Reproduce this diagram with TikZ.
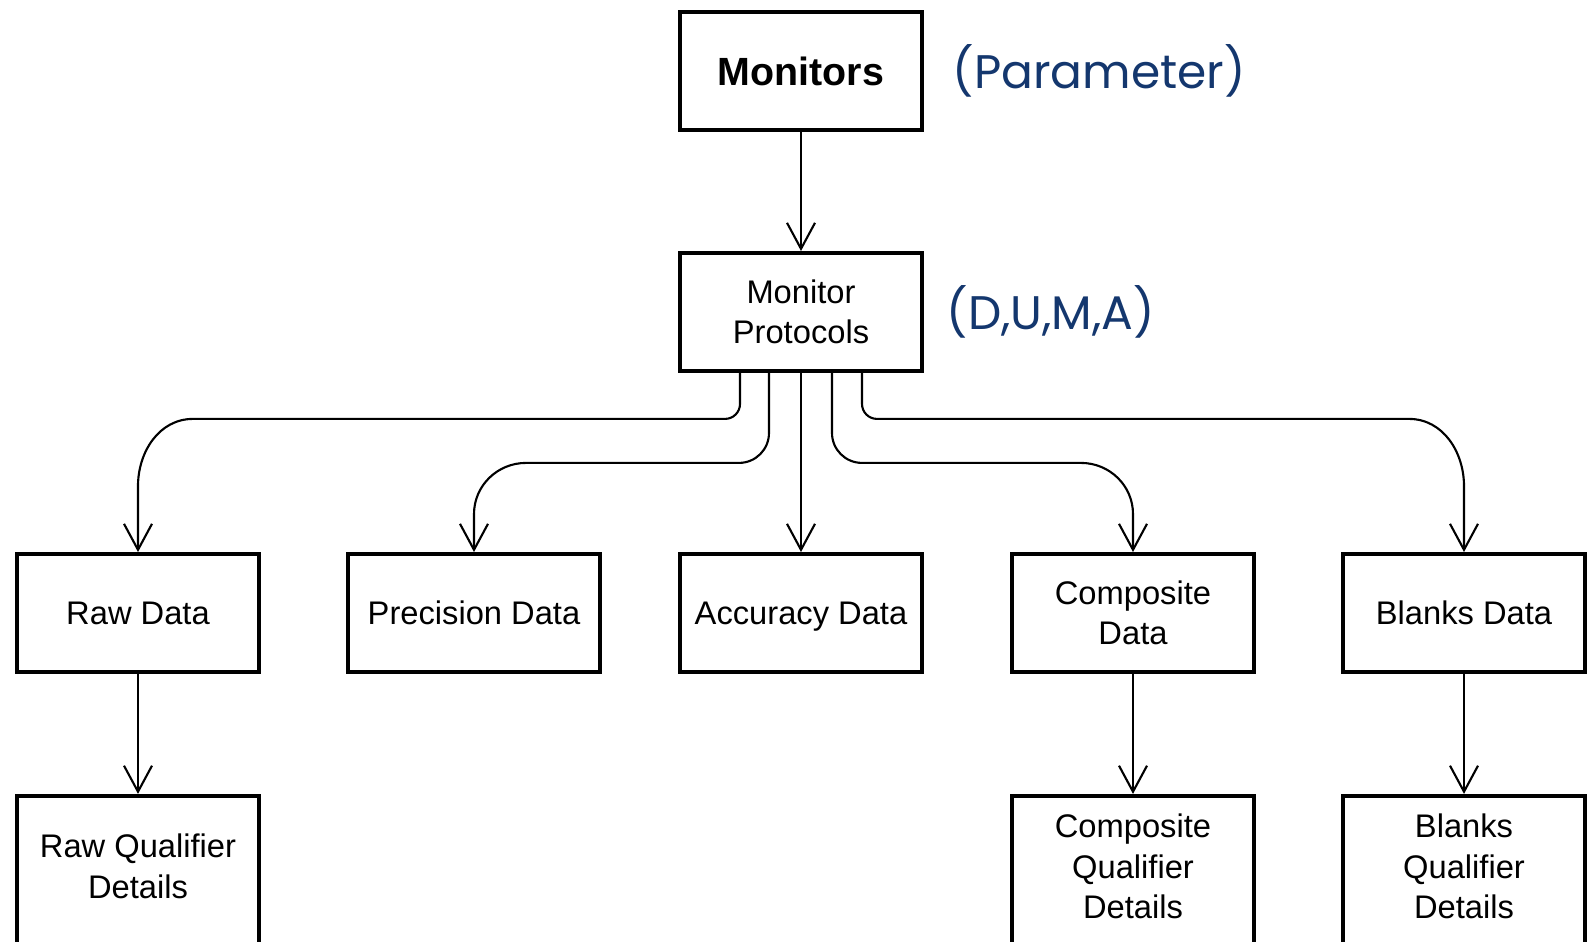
\documentclass[tikz,border=0pt]{standalone}
\usepackage{fontspec}
\setmainfont{Liberation Sans}
\newfontfamily\notefont{Poppins}
\usetikzlibrary{arrows.meta,calc,positioning}
\definecolor{notecol}{RGB}{20,55,110}

\begin{document}
\begin{tikzpicture}[
    >={Straight Barb[length=2.6mm,width=2.8mm]},
    box/.style  = {draw, line width=1.1pt,
                   minimum width=24.2mm, minimum height=11.8mm,
                   align=center, inner sep=1pt,
                   font=\fontsize{9.3}{11.5}\selectfont},
    qbox/.style = {box, minimum height=15.4mm, text depth=1.3mm},
    conn/.style = {semithick,->},
    note/.style = {font=\notefont\fontsize{13.4}{16}\selectfont,
                   text=notecol, inner sep=0pt}
  ]
  \useasboundingbox (0,0) rectangle (15.87,9.42);

  \coordinate (origin) at (8.01,3.29);

  \node[box, font=\bfseries\fontsize{11.2}{13}\selectfont] (MON) at ($(origin)+(0,5.42)$) {Monitors};
  \node[box] (PROT) at ($(origin)+(0,3.01)$) {Monitor\\Protocols};

  \node[box] (RAW)  at ($(origin)+(-6.63,0)$) {Raw Data};
  \node[box, minimum width=25.2mm] (PREC) at ($(origin)+(-3.27,0)$) {Precision Data};
  \node[box, text depth=0pt] (ACC) at ($(origin)+( 0,   0)$) {Accuracy Data};
  \node[box] (COMP) at ($(origin)+( 3.32,0)$) {Composite\\Data};
  \node[box] (BLK)  at ($(origin)+( 6.63,0)$) {Blanks Data};

  \node[qbox, below=1.2cm of RAW]  (RAWQ)  {Raw Qualifier\\Details};
  \node[qbox, below=1.2cm of COMP] (COMPQ) {Composite\\Qualifier\\Details};
  \node[qbox, below=1.2cm of BLK]  (BLKQ)  {Blanks\\Qualifier\\Details};

  \node[note, right=2.8mm of MON]  (PARAM) {(Parameter)};
  \node[note, right=2.2mm of PROT] (DUMA)  {(D,U,M,A)};

  \draw[conn] (MON) -- (PROT);
  \draw[conn] (PROT) -- (ACC);

  \draw[conn] ($(PROT.south)+(-0.61,0)$) -- ++(0,-0.31) to[out=-90,in=0] ++(-0.15,-0.15) coordinate (h1)
    -- ($(RAW.north|-h1)+(0.55,0)$) to[out=180,in=90] ($(RAW.north)+(0,0.66)$) -- (RAW.north);
  \draw[conn] ($(PROT.south)+(-0.32,0)$) -- ++(0,-0.60) to[out=-90,in=0] ++(-0.30,-0.30) coordinate (h2)
    -- ($(PREC.north|-h2)+(0.52,0)$) to[out=180,in=90] ($(PREC.north)+(0,0.38)$) -- (PREC.north);
  \draw[conn] ($(PROT.south)+(0.31,0)$) -- ++(0,-0.60) to[out=-90,in=180] ++(0.30,-0.30) coordinate (h3)
    -- ($(COMP.north|-h3)+(-0.52,0)$) to[out=0,in=90] ($(COMP.north)+(0,0.38)$) -- (COMP.north);
  \draw[conn] ($(PROT.south)+(0.61,0)$) -- ++(0,-0.31) to[out=-90,in=180] ++(0.15,-0.15) coordinate (h4)
    -- ($(BLK.north|-h4)+(-0.55,0)$) to[out=0,in=90] ($(BLK.north)+(0,0.66)$) -- (BLK.north);

  \foreach \a/\b in {RAW/RAWQ, COMP/COMPQ, BLK/BLKQ}
    \draw[conn] (\a) -- (\b);

\end{tikzpicture}
\end{document}
